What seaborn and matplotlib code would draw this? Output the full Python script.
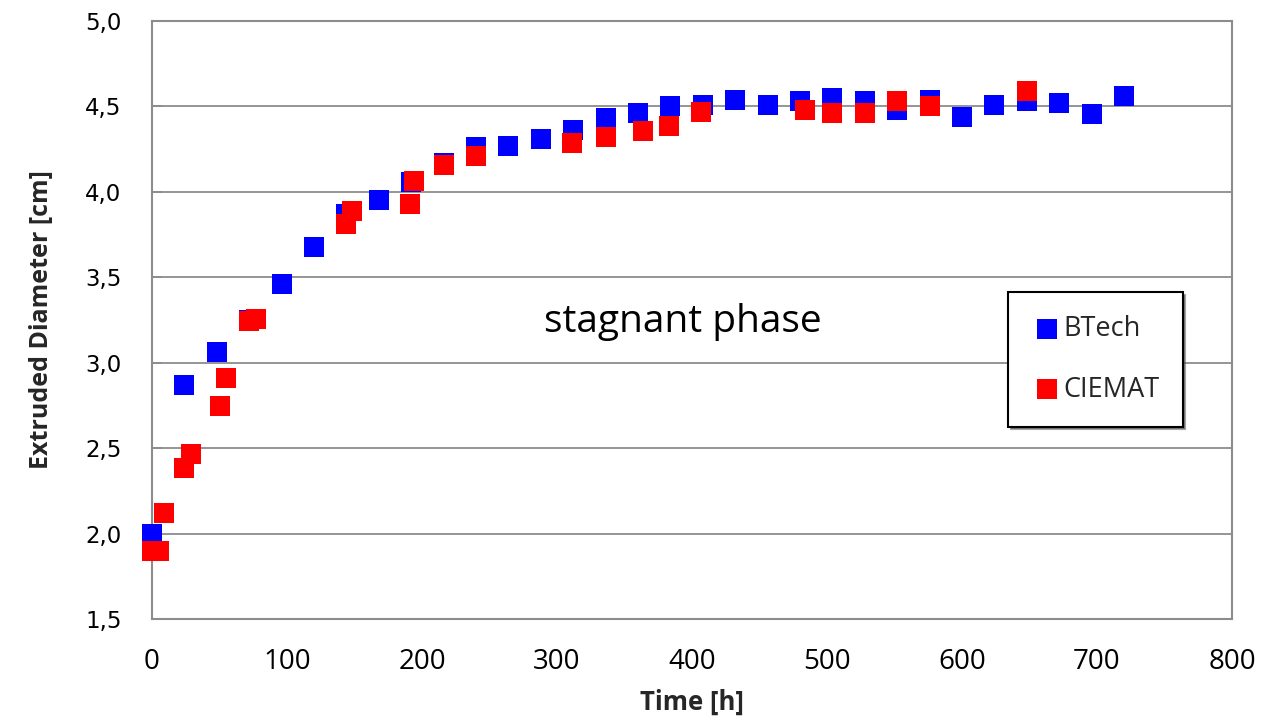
import matplotlib
matplotlib.use("Agg")
import matplotlib.pyplot as plt
import seaborn as sns
import pandas as pd

# ---- data ----
btech_time = [0, 24, 48, 72, 96, 120, 144, 168, 192, 216, 240, 264, 288, 312,
              336, 360, 384, 408, 432, 456, 480, 504, 528, 552, 576, 600, 624,
              648, 672, 696, 720]
btech_diam = [2.00, 2.87, 3.06, 3.25, 3.46, 3.68, 3.87, 3.95, 4.06, 4.17, 4.26,
              4.27, 4.31, 4.36, 4.43, 4.46, 4.50, 4.51, 4.54, 4.51, 4.53, 4.55,
              4.53, 4.48, 4.54, 4.44, 4.51, 4.53, 4.52, 4.455, 4.56]

ciemat_time = [0, 5, 9, 24, 29, 50, 55, 72, 77, 144, 148, 191, 194, 216, 240,
               311, 336, 364, 383, 407, 484, 504, 528, 552, 576, 648]
ciemat_diam = [1.90, 1.90, 2.12, 2.385, 2.465, 2.745, 2.91, 3.245, 3.255, 3.81,
               3.89, 3.93, 4.065, 4.155, 4.21, 4.285, 4.32, 4.355, 4.385, 4.465,
               4.48, 4.46, 4.46, 4.53, 4.50, 4.59]

xtick_values = [0, 100, 200, 300, 400, 500, 600, 700, 800]
xtick_labels = ["0", "100", "200", "300", "400", "500", "600", "700", "800"]
ytick_values = [1.5, 2.0, 2.5, 3.0, 3.5, 4.0, 4.5, 5.0]
ytick_labels = ["1,5", "2,0", "2,5", "3,0", "3,5", "4,0", "4,5", "5,0"]

series_names = ["BTech", "CIEMAT"]
x_label = "Time [h]"
y_label = "Extruded Diameter [cm]"
annotation = "stagnant phase"

# ---- style ----
sns.set_theme(style="white")
plt.rcParams["font.family"] = ["Open Sans", "DejaVu Sans"]

grid_color = "#8c8c8c"

fig = plt.figure(figsize=(12.63, 7.23), dpi=100)
ax = fig.add_axes([152 / 1263, 1 - 619 / 723, (1232 - 152) / 1263, (619 - 21) / 723])

df_b = pd.DataFrame({"time": btech_time, "diam": btech_diam})
df_c = pd.DataFrame({"time": ciemat_time, "diam": ciemat_diam})

sns.scatterplot(data=df_b, x="time", y="diam", marker="s", s=205, color="#0000ff",
                linewidth=0, ax=ax, label=series_names[0], zorder=3)
sns.scatterplot(data=df_c, x="time", y="diam", marker="s", s=205, color="#ff0000",
                linewidth=0, ax=ax, label=series_names[1], zorder=4)
for coll in ax.collections:
    coll.set_clip_on(False)

ax.set_xlim(0, 800)
ax.set_ylim(1.5, 5.0)
ax.set_xticks(xtick_values)
ax.set_xticklabels(xtick_labels, fontsize=20, family=["Open Sans", "DejaVu Sans"])
ax.set_yticks(ytick_values)
ax.set_yticklabels(ytick_labels, fontsize=16.5, family=["DejaVu Sans"])

ax.yaxis.grid(True, color=grid_color, linewidth=1.3)
ax.xaxis.grid(False)
ax.set_axisbelow(True)
for sp in ax.spines.values():
    sp.set_color(grid_color)
    sp.set_linewidth(1.5)
    sp.set_visible(True)

ax.tick_params(axis="y", direction="in", length=7, width=1.3, color=grid_color,
               pad=22, labelcolor="black", left=True)
ax.tick_params(axis="x", length=0, pad=21, labelcolor="black")

ax.set_xlabel(x_label, fontsize=18.5, fontweight="bold", labelpad=9)
ax.set_ylabel(y_label, fontsize=18, fontweight="bold", labelpad=22)

ax.text(393, 3.181, annotation, fontsize=28, ha="center", va="baseline", color="black")

leg = ax.legend(loc="upper left", bbox_to_anchor=(0.7926, 0.5468), borderaxespad=0,
                frameon=True, fancybox=False, shadow=True, fontsize=19.5,
                labelspacing=1.2, handletextpad=0.0, borderpad=0.85,
                markerscale=1.0, handlelength=1.2)
leg.get_frame().set_edgecolor("black")
leg.get_frame().set_linewidth(1.5)

fig.savefig("out.png", dpi=100)
